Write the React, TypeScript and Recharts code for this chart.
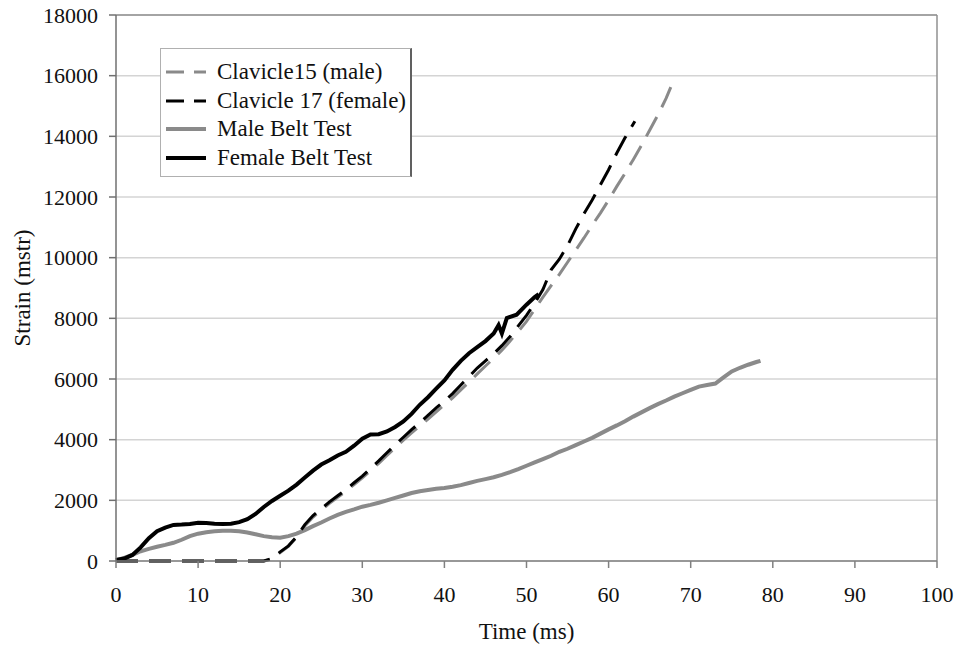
import { LineChart, Line, XAxis, YAxis, CartesianGrid, Legend, ReferenceLine } from "recharts";

// [time (ms), strain (mstr)]
const clavicle15: [number, number][] = [
  [0, 0], [18, 0], [19, 60], [20, 280], [21, 480], [22, 780], [23, 1150], [24, 1450], [25, 1680],
  [26, 1900], [27, 2100], [28, 2300], [29, 2520], [30, 2740], [31, 2980], [32, 3220], [33, 3480],
  [34, 3730], [35, 3980], [36, 4220], [37, 4450], [38, 4680], [39, 4920], [40, 5150], [41, 5380],
  [42, 5640], [43, 5900], [44, 6170], [45, 6430], [46, 6680], [47, 6950], [48, 7250], [49, 7570],
  [50, 7900], [51, 8300], [52, 8700], [53, 9080], [54, 9450], [55, 9850], [56, 10250], [57, 10650],
  [58, 11070], [59, 11470], [60, 11900], [61, 12350], [62, 12780], [63, 13230], [64, 13700],
  [65, 14200], [66, 14700], [67, 15250], [67.7, 15700],
];

const clavicle17: [number, number][] = [
  [0, 0], [18, 0], [19, 80], [20, 300], [21, 500], [22, 800], [23, 1200], [24, 1500], [25, 1720],
  [26, 1950], [27, 2150], [28, 2350], [29, 2580], [30, 2800], [31, 3050], [32, 3300], [33, 3570],
  [34, 3830], [35, 4080], [36, 4330], [37, 4560], [38, 4800], [39, 5050], [40, 5270], [41, 5520],
  [42, 5800], [43, 6080], [44, 6360], [45, 6600], [46, 6830], [47, 7100], [48, 7400], [49, 7750],
  [50, 8100], [51, 8500], [52, 8950], [53, 9600], [54, 9950], [55, 10400], [56, 10950], [57, 11450],
  [58, 11900], [59, 12400], [60, 12900], [61, 13450], [62, 13950], [63.2, 14500],
];

const maleBelt: [number, number][] = [
  [0, 30], [1, 100], [2, 200], [3, 320], [4, 400], [5, 470], [6, 530], [7, 600], [8, 700], [9, 820],
  [10, 900], [11, 950], [12, 980], [13, 1000], [14, 1000], [15, 980], [16, 940], [17, 880], [18, 820],
  [19, 780], [20, 770], [21, 820], [22, 900], [23, 1020], [24, 1150], [25, 1270], [26, 1400],
  [27, 1520], [28, 1620], [29, 1700], [30, 1790], [31, 1850], [32, 1920], [33, 2000], [34, 2080],
  [35, 2160], [36, 2240], [37, 2300], [38, 2340], [39, 2380], [40, 2410], [41, 2450], [42, 2500],
  [43, 2570], [44, 2640], [45, 2700], [46, 2760], [47, 2840], [48, 2930], [49, 3030], [50, 3140],
  [51, 3250], [52, 3360], [53, 3470], [54, 3600], [55, 3700], [56, 3820], [57, 3940], [58, 4060],
  [59, 4200], [60, 4340], [61, 4470], [62, 4610], [63, 4760], [64, 4900], [65, 5040], [66, 5170],
  [67, 5290], [68, 5420], [69, 5530], [70, 5640], [71, 5750], [72, 5800], [73, 5850], [74, 6050],
  [75, 6250], [76, 6370], [77, 6470], [78, 6560], [78.5, 6600],
];

const femaleBelt: [number, number][] = [
  [0, 30], [1, 80], [2, 200], [3, 450], [4, 750], [5, 980], [6, 1100], [7, 1190], [8, 1200],
  [9, 1220], [10, 1260], [11, 1250], [12, 1230], [13, 1220], [14, 1230], [15, 1280], [16, 1380],
  [17, 1550], [18, 1780], [19, 1980], [20, 2150], [21, 2320], [22, 2520], [23, 2750], [24, 2980],
  [25, 3180], [26, 3320], [27, 3480], [28, 3600], [29, 3800], [30, 4030], [31, 4170], [32, 4180],
  [33, 4270], [34, 4420], [35, 4600], [36, 4850], [37, 5150], [38, 5400], [39, 5680], [40, 5950],
  [41, 6300], [42, 6600], [43, 6850], [44, 7050], [45, 7250], [46, 7500], [46.6, 7780], [47, 7500],
  [47.6, 8010], [48.8, 8120], [50, 8450], [51, 8700], [51.5, 8800],
];

const xTicks = [0, 10, 20, 30, 40, 50, 60, 70, 80, 90, 100];
const yTicks = [0, 2000, 4000, 6000, 8000, 10000, 12000, 14000, 16000, 18000];

const toRows = (pts: [number, number][]) => pts.map(([t, v]) => ({ t, v }));

const FONT = '"Liberation Serif", "Times New Roman", serif';
const GREY = "#8a8a8a";
const INK = "#111";

const legendItems = [
  { name: "Clavicle15 (male)", color: GREY, dash: "18 10", width: 3 },
  { name: "Clavicle 17 (female)", color: "#000", dash: "18 10", width: 3 },
  { name: "Male Belt Test", color: GREY, dash: undefined, width: 4 },
  { name: "Female Belt Test", color: "#000", dash: undefined, width: 4 },
];

function LegendBox() {
  return (
    <div
      style={{
        width: 252,
        height: 129,
        boxSizing: "border-box",
        background: "#fff",
        border: "1px solid #b0b0b0",
        borderRight: "2px solid #606060",
        padding: "9px 0 0 4px",
        fontFamily: FONT,
        fontSize: 23,
        color: INK,
      }}
    >
      {legendItems.map((it) => (
        <div key={it.name} style={{ display: "flex", alignItems: "center", height: 28.5 }}>
          <svg width={46} height={10} style={{ marginRight: 6 }}>
            <line x1={1} y1={5} x2={41} y2={5} stroke={it.color} strokeWidth={it.width} strokeDasharray={it.dash} />
          </svg>
          <span>{it.name}</span>
        </div>
      ))}
    </div>
  );
}

export default function App() {
  return (
    <div style={{ width: 957, height: 645 }}>
      <style>{"body{margin:0;background:#fff}"}</style>
      <LineChart width={957} height={645} margin={{ top: 15, right: 20, bottom: 0, left: 0 }}>
        <CartesianGrid vertical={false} stroke="#d4d4d4" strokeWidth={1.5} />
        <XAxis
          dataKey="t"
          type="number"
          domain={[0, 100]}
          ticks={xTicks}
          allowDuplicatedCategory={false}
          height={84}
          tickSize={7}
          tickMargin={18}
          stroke="#808080"
          strokeWidth={1.5}
          tick={{ fill: INK, fontSize: 22, fontFamily: FONT }}
          label={{
            content: ({ viewBox }: any) => (
              <text x={viewBox.x + viewBox.width / 2} y={639} textAnchor="middle" fill={INK} fontSize={23} fontFamily={FONT}>
                Time (ms)
              </text>
            ),
          }}
        />
        <YAxis
          type="number"
          domain={[0, 18000]}
          ticks={yTicks}
          width={116}
          tickSize={7}
          tickMargin={11}
          stroke="#707070"
          strokeWidth={1.5}
          tick={{ fill: INK, fontSize: 22, fontFamily: FONT }}
          label={{
            content: ({ viewBox }: any) => {
              const cy = viewBox.y + viewBox.height / 2;
              return (
                <text x={30} y={cy} transform={`rotate(-90, 30, ${cy})`} textAnchor="middle" fill={INK} fontSize={23} fontFamily={FONT}>
                  Strain (mstr)
                </text>
              );
            },
          }}
        />
        <ReferenceLine y={18000} stroke="#909090" strokeWidth={1.5} />
        <ReferenceLine x={100} stroke="#909090" strokeWidth={1.5} />
        <Legend
          layout="horizontal"
          verticalAlign="middle"
          align="center"
          wrapperStyle={{ position: "absolute", left: 160, top: 48, width: 252 }}
          content={() => <LegendBox />}
        />
        <Line data={toRows(maleBelt)} dataKey="v" name="Male Belt Test" stroke={GREY} strokeWidth={4} dot={false} type="linear" isAnimationActive={false} />
        <Line data={toRows(clavicle15)} dataKey="v" name="Clavicle15 (male)" stroke={GREY} strokeWidth={3} strokeDasharray="22 11" dot={false} type="linear" isAnimationActive={false} />
        <Line data={toRows(clavicle17)} dataKey="v" name="Clavicle 17 (female)" stroke="#000" strokeWidth={3} strokeDasharray="22 11" dot={false} type="linear" isAnimationActive={false} />
        <Line data={toRows(femaleBelt)} dataKey="v" name="Female Belt Test" stroke="#000" strokeWidth={4} dot={false} type="linear" isAnimationActive={false} />
      </LineChart>
    </div>
  );
}
